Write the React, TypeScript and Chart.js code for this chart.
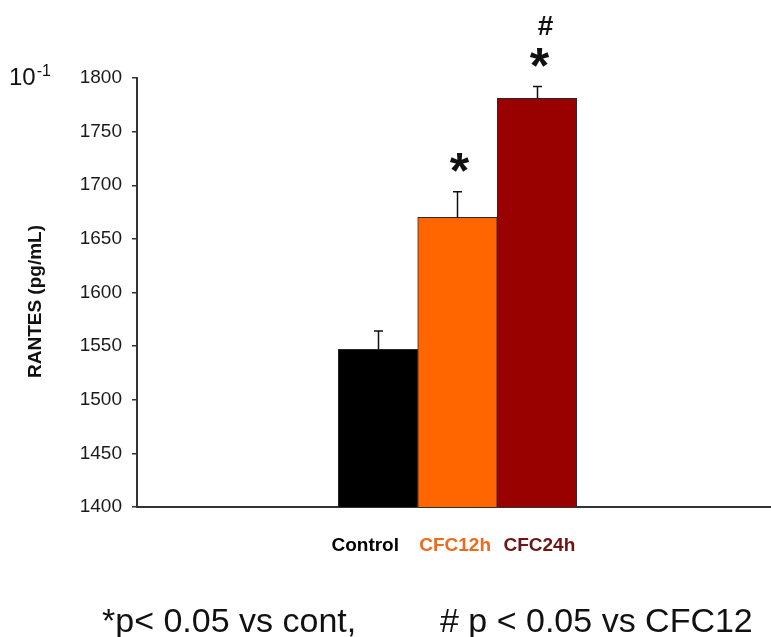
import React, { useEffect, useRef } from "react";
import { Chart, registerables } from "chart.js";

Chart.register(...registerables);

// ---- data ----
const categories = ["Control", "CFC12h", "CFC24h"];
const means = [1547, 1670, 1781];
const errors = [17, 24, 11];
const barColors = ["#000000", "#FF6600", "#990000"];
const labelColors = ["#000000", "#EE6A1C", "#6E1414"];
const starMarks = ["", "*", "*"];
const hashMarks = ["", "", "#"];
const yMin = 1400;
const yMax = 1800;
const yStep = 50;
const yAxisTitle = "RANTES (pg/mL)";
const scaleBase = "10";
const scaleExp = "-1";
const footnoteLeft = "*p< 0.05 vs cont,";
const footnoteRight = "# p < 0.05 vs CFC12";

const SANS = "'Liberation Sans', Arial, sans-serif";
const labelShift = [-0.16, -0.03, 0.03];

function drawCentered(ctx: CanvasRenderingContext2D, s: string, cx: number, cy: number) {
  const m = ctx.measureText(s);
  const baseline = cy + (m.actualBoundingBoxAscent - m.actualBoundingBoxDescent) / 2;
  ctx.textAlign = "center";
  ctx.textBaseline = "alphabetic";
  ctx.fillText(s, cx, baseline);
}

const overlay = {
  id: "overlay",
  afterDatasetsDraw(chart: any) {
    const ctx: CanvasRenderingContext2D = chart.ctx;
    const xs = chart.scales.x;
    const ys = chart.scales.y;
    ctx.save();
    ctx.strokeStyle = "#111";
    ctx.fillStyle = "#111";
    ctx.lineWidth = 1.5;
    means.forEach((m, i) => {
      const px = Math.round(xs.getPixelForValue(i)) + 0.5;
      const top = ys.getPixelForValue(m);
      const et = ys.getPixelForValue(m + errors[i]);
      ctx.beginPath();
      ctx.moveTo(px, top);
      ctx.lineTo(px, et);
      ctx.moveTo(px - 4.5, et);
      ctx.lineTo(px + 4.5, et);
      ctx.stroke();
      if (starMarks[i]) {
        ctx.font = `bold 50px ${SANS}`;
        drawCentered(ctx, starMarks[i], px + 2, et - 29);
      }
      if (hashMarks[i]) {
        ctx.font = `bold 28px ${SANS}`;
        drawCentered(ctx, hashMarks[i], px + 8, et - 61);
      }
    });
    ctx.restore();
  },
  afterDraw(chart: any) {
    const ctx: CanvasRenderingContext2D = chart.ctx;
    const area = chart.chartArea;
    ctx.save();
    ctx.fillStyle = "#111";
    // y-axis title
    ctx.save();
    ctx.font = `bold 19px ${SANS}`;
    ctx.translate(35.5, 301.5);
    ctx.rotate(-Math.PI / 2);
    ctx.textAlign = "center";
    ctx.textBaseline = "middle";
    ctx.fillText(yAxisTitle, 0, 0);
    ctx.restore();
    // scale factor 10^-1
    ctx.textAlign = "left";
    ctx.textBaseline = "alphabetic";
    ctx.font = `24px ${SANS}`;
    ctx.fillText(scaleBase, 9, area.top + 7);
    const w = ctx.measureText(scaleBase).width;
    ctx.font = `16px ${SANS}`;
    ctx.fillText(scaleExp, 9 + w + 1, area.top - 2);
    // footnote
    ctx.font = `34px ${SANS}`;
    ctx.fillText(footnoteLeft, 102, 632);
    ctx.fillText(footnoteRight, 440, 632);
    ctx.restore();
  },
};

export default function App() {
  const ref = useRef<HTMLCanvasElement>(null);
  useEffect(() => {
    if (!ref.current) return;
    const chart = new Chart(ref.current, {
      type: "bar",
      data: {
        datasets: [
          {
            data: means.map((v, i) => ({ x: i, y: v })),
            backgroundColor: barColors,
            borderColor: "#2a2a2a",
            borderWidth: 1,
            barPercentage: 1,
            categoryPercentage: 1,
          },
        ],
      },
      options: {
        animation: false,
        responsive: false,
        maintainAspectRatio: false,
        layout: { padding: { top: 78, right: 1, bottom: 0, left: 0 } },
        plugins: { legend: { display: false }, tooltip: { enabled: false } },
        scales: {
          x: {
            type: "linear",
            offset: false,
            bounds: "data",
            min: -3.03,
            max: 4.93,
            grid: { display: false, drawTicks: false, offset: false },
            border: { display: true, color: "#333", width: 2 },
            afterBuildTicks: (s: any) => {
              s.ticks = categories.map((_, i) => ({ value: i + labelShift[i] }));
            },
            afterFit: (s: any) => {
              s.height = 130;
            },
            ticks: {
              autoSkip: false,
              maxRotation: 0,
              minRotation: 0,
              padding: 27,
              font: { family: SANS, size: 19, weight: "bold" },
              color: (c: any) => labelColors[c.index] || "#000",
              callback: (_v: any, i: number) => categories[i],
            },
          },
          y: {
            min: yMin,
            max: yMax,
            afterFit: (s: any) => {
              s.width = 137;
            },
            grid: {
              display: true,
              drawOnChartArea: false,
              drawTicks: true,
              tickLength: 5,
              color: "#333",
              lineWidth: 1.5,
            },
            border: { display: true, color: "#333", width: 2 },
            ticks: {
              stepSize: yStep,
              padding: 10,
              color: "#1a1a1a",
              font: { family: SANS, size: 19 },
              callback: (v: any) => String(v),
            },
          },
        },
      },
      plugins: [overlay],
    } as any);
    return () => chart.destroy();
  }, []);
  return (
    <div style={{ position: "absolute", left: 0, top: 0, width: 771, height: 637, background: "#fff" }}>
      <canvas ref={ref} width={771} height={637} style={{ display: "block" }} />
    </div>
  );
}
